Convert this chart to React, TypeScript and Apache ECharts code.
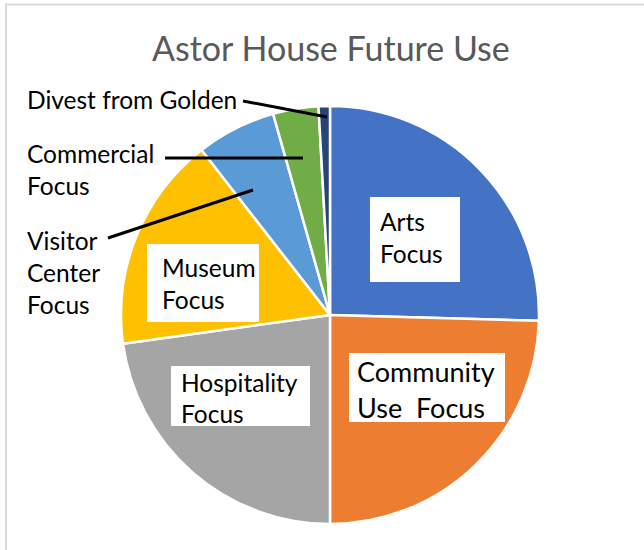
import React, { useEffect, useRef } from "react";
import * as echarts from "echarts";

const titleText = "Astor House Future Use";
const categories = [
  "Arts Focus",
  "Community Use Focus",
  "Hospitality Focus",
  "Museum Focus",
  "Visitor Center Focus",
  "Commercial Focus",
  "Divest from Golden",
];
const labelTexts = [
  "Arts\nFocus",
  "Community\nUse  Focus",
  "Hospitality\nFocus",
  "Museum\nFocus",
  "Visitor\nCenter\nFocus",
  "Commercial\nFocus",
  "Divest from Golden",
];
const values = [29, 28, 26, 19, 7, 4, 1];
const colors = ["#4472C4", "#ED7D31", "#A5A5A5", "#FFC000", "#5B9BD5", "#70AD47", "#264478"];

// label placement (layout only)
const labelAnchors: number[][] = [
  [370, 197],
  [349, 353],
  [171, 366],
  [147, 244],
  [27, 224],
  [27, 137],
  [27, 83],
];
const labelFontSizes = [24.5, 27, 24.5, 24.5, 24.5, 24.5, 24.5];
const labelLineHeights = [32, 36, 31, 32, 32, 32, 32];
const boxPaddings: (number[] | null)[] = [
  [8, 10, 13, 10],
  [0, 4, 0, 8],
  [1, 5, 0, 10],
  [7, 5, 7, 15],
  null,
  null,
  null,
];
const boxSizes: (number[] | null)[] = [[70, 64], [144, 69], [124, 59], [92, 64], null, null, null];
const leaderLines: (number[][] | null)[] = [
  null,
  null,
  null,
  null,
  [[108, 238], [253, 190]],
  [[165, 158], [303, 158]],
  [[243, 101], [327, 117]],
];

export default function App() {
  const ref = useRef<HTMLDivElement>(null);
  useEffect(() => {
    document.body.style.margin = "0";
    const chart = echarts.init(ref.current!, undefined, { renderer: "svg" });
    const sliceData = categories.map((name, i) => ({
      name,
      value: values[i],
      itemStyle: { color: colors[i] },
    }));
    const labelData = categories.map((name, i) => {
      const inside = boxPaddings[i] != null;
      const label: any = inside
        ? {
            position: "inside",
            backgroundColor: "#ffffff",
            padding: boxPaddings[i],
            width: boxSizes[i]![0],
            height: boxSizes[i]![1],
            fontSize: labelFontSizes[i],
            lineHeight: labelLineHeights[i],
          }
        : {
            position: "outside",
            fontSize: labelFontSizes[i],
            lineHeight: labelLineHeights[i],
          };
      return {
        name,
        value: values[i],
        label,
        labelLine: { show: !inside },
      };
    });
    chart.setOption({
      animation: false,
      title: {
        text: titleText,
        left: 152,
        top: 30,
        padding: 0,
        textStyle: {
          fontFamily: "Lato",
          fontWeight: 400,
          fontSize: 34,
          lineHeight: 34,
          color: "#595959",
        },
      },
      graphic: [
        {
          type: "rect",
          shape: { x: 6, y: 4.5, width: 700, height: 600 },
          style: { fill: "none", stroke: "#d9d9d9", lineWidth: 2 },
          silent: true,
        },
      ],
      series: [
        {
          type: "pie",
          z: 2,
          center: [330, 315],
          radius: 209,
          startAngle: 90,
          clockwise: true,
          silent: true,
          itemStyle: { borderColor: "#ffffff", borderWidth: 2.5 },
          emphasis: { disabled: true },
          label: { show: false },
          labelLine: { show: false },
          data: sliceData,
        },
        {
          type: "pie",
          z: 4,
          center: [330, 315],
          radius: 209,
          startAngle: 90,
          clockwise: true,
          silent: true,
          avoidLabelOverlap: false,
          itemStyle: { color: "rgba(0,0,0,0)", borderWidth: 0 },
          emphasis: { disabled: true },
          label: {
            show: true,
            formatter: (p: any) => labelTexts[p.dataIndex],
            fontFamily: "Lato",
            color: "#000000",
            overflow: "none",
            align: "left",
          },
          labelLine: {
            show: true,
            lineStyle: { color: "#000000", width: 3 },
          },
          labelLayout: (params: any) => {
            const i = params.dataIndex;
            const out: any = {
              x: labelAnchors[i][0],
              y: labelAnchors[i][1],
              align: "left",
              verticalAlign: "top",
            };
            if (leaderLines[i]) out.labelLinePoints = leaderLines[i];
            return out;
          },
          data: labelData,
        },
      ],
    });
    return () => chart.dispose();
  }, []);
  return <div ref={ref} style={{ width: 644, height: 550 }} />;
}
